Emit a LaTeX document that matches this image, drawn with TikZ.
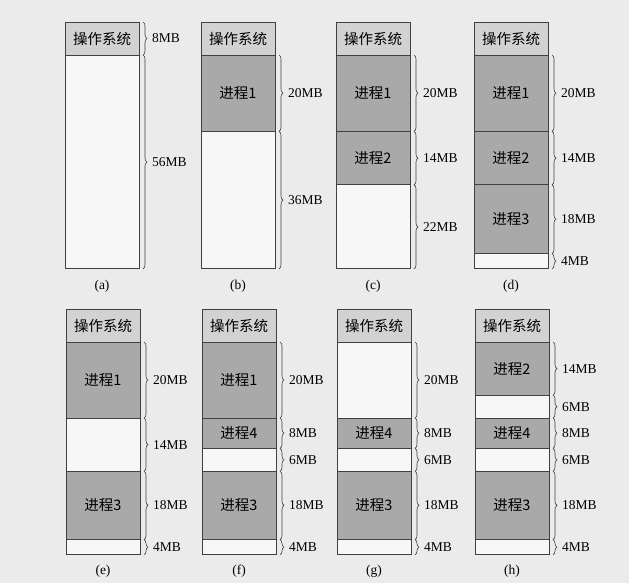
\documentclass[tikz,border=0pt]{standalone}
\usepackage{fontspec}
\setmainfont{Liberation Serif}
\newfontfamily\cjk{Noto Sans CJK SC}
\usetikzlibrary{decorations.pathreplacing}
\definecolor{bgc}{HTML}{EBEBEB}
\definecolor{osc}{HTML}{D2D2D2}
\definecolor{prc}{HTML}{A9A9A9}
\definecolor{frc}{HTML}{F7F7F7}
\definecolor{lnc}{HTML}{404040}
\tikzset{
  blk/.style={draw=lnc,line width=0.9pt,inner sep=0pt,outer sep=0pt,minimum width=74pt,font=\fontsize{14.5pt}{16pt}\cjk,text=black},
  oss/.style={blk,fill=osc},
  prs/.style={blk,fill=prc},
  frs/.style={blk,fill=frc},
  brc/.style={draw=lnc,line width=0.6pt,decorate,decoration={brace,amplitude=4pt,aspect=0.5}},
  szl/.style={anchor=west,inner sep=0pt,font=\fontsize{13.5pt}{15pt}\selectfont,text=black},
  capl/.style={inner sep=0pt,font=\fontsize{13.5pt}{15pt}\selectfont,text=black}
}
\newcommand\mblk[6]{\node[#5,minimum height={(#4-#3)*1pt}] (#1) at ({#2+37},{(#3+#4)/2}) {#6};}
\newcommand\mbrc[5]{\draw[brc] ({#2+78},#3) -- ({#2+78},#4);
  \node[szl] (#1) at ({#2+87},{(#3+#4)/2}) {#5};}
\newcommand\pj[1]{{\cjk 进程}#1}
\begin{document}
\begin{tikzpicture}[x=1pt,y=-1pt]
\useasboundingbox[fill=bgc] (0,0) rectangle (629,583);
% ---------- (a)
\mblk{aos}{65}{22}{55}{oss}{操作系统}
\mblk{af1}{65}{55}{268.9}{frs}{}
\mbrc{al1}{65}{22}{55}{8MB}
\mbrc{al2}{65}{55}{268.9}{56MB}
\node[capl] (capa) at (102,286) {(a)};
% ---------- (b)
\mblk{bos}{201}{22}{55}{oss}{操作系统}
\mblk{bp1}{201}{55}{131.4}{prs}{\pj1}
\mblk{bf1}{201}{131.4}{268.9}{frs}{}
\mbrc{bl1}{201}{55}{131.4}{20MB}
\mbrc{bl2}{201}{131.4}{268.9}{36MB}
\node[capl] (capb) at (238,286) {(b)};
% ---------- (c)
\mblk{cos}{336}{22}{55}{oss}{操作系统}
\mblk{cp1}{336}{55}{131.4}{prs}{\pj1}
\mblk{cp2}{336}{131.4}{184.9}{prs}{\pj2}
\mblk{cf1}{336}{184.9}{268.9}{frs}{}
\mbrc{cl1}{336}{55}{131.4}{20MB}
\mbrc{cl2}{336}{131.4}{184.9}{14MB}
\mbrc{cl3}{336}{184.9}{268.9}{22MB}
\node[capl] (capc) at (373,286) {(c)};
% ---------- (d)
\mblk{dos}{474}{22}{55}{oss}{操作系统}
\mblk{dp1}{474}{55}{131.4}{prs}{\pj1}
\mblk{dp2}{474}{131.4}{184.9}{prs}{\pj2}
\mblk{dp3}{474}{184.9}{253.6}{prs}{\pj3}
\mblk{df1}{474}{253.6}{268.9}{frs}{}
\mbrc{dl1}{474}{55}{131.4}{20MB}
\mbrc{dl2}{474}{131.4}{184.9}{14MB}
\mbrc{dl3}{474}{184.9}{253.6}{18MB}
\mbrc{dl4}{474}{253.6}{268.9}{4MB}
\node[capl] (capd) at (511,286) {(d)};
% ---------- (e)
\mblk{eos}{66}{309}{342}{oss}{操作系统}
\mblk{ep1}{66}{342}{418}{prs}{\pj1}
\mblk{ef1}{66}{418}{471.2}{frs}{}
\mblk{ep3}{66}{471.2}{539.6}{prs}{\pj3}
\mblk{ef2}{66}{539.6}{554.8}{frs}{}
\mbrc{el1}{66}{342}{418}{20MB}
\mbrc{el2}{66}{418}{471.2}{14MB}
\mbrc{el3}{66}{471.2}{539.6}{18MB}
\mbrc{el4}{66}{539.6}{554.8}{4MB}
\node[capl] (cape) at (103,571) {(e)};
% ---------- (f)
\mblk{fos}{202}{309}{342}{oss}{操作系统}
\mblk{fp1}{202}{342}{418}{prs}{\pj1}
\mblk{fp4}{202}{418}{448.4}{prs}{\pj4}
\mblk{ff1}{202}{448.4}{471.2}{frs}{}
\mblk{fp3}{202}{471.2}{539.6}{prs}{\pj3}
\mblk{ff2}{202}{539.6}{554.8}{frs}{}
\mbrc{fl1}{202}{342}{418}{20MB}
\mbrc{fl2}{202}{418}{448.4}{8MB}
\mbrc{fl3}{202}{448.4}{471.2}{6MB}
\mbrc{fl4}{202}{471.2}{539.6}{18MB}
\mbrc{fl5}{202}{539.6}{554.8}{4MB}
\node[capl] (capf) at (239,571) {(f)};
% ---------- (g)
\mblk{gos}{337}{309}{342}{oss}{操作系统}
\mblk{gf0}{337}{342}{418}{frs}{}
\mblk{gp4}{337}{418}{448.4}{prs}{\pj4}
\mblk{gf1}{337}{448.4}{471.2}{frs}{}
\mblk{gp3}{337}{471.2}{539.6}{prs}{\pj3}
\mblk{gf2}{337}{539.6}{554.8}{frs}{}
\mbrc{gl1}{337}{342}{418}{20MB}
\mbrc{gl2}{337}{418}{448.4}{8MB}
\mbrc{gl3}{337}{448.4}{471.2}{6MB}
\mbrc{gl4}{337}{471.2}{539.6}{18MB}
\mbrc{gl5}{337}{539.6}{554.8}{4MB}
\node[capl] (capg) at (374,571) {(g)};
% ---------- (h)
\mblk{hos}{475}{309}{342}{oss}{操作系统}
\mblk{hp2}{475}{342}{395.2}{prs}{\pj2}
\mblk{hf0}{475}{395.2}{418}{frs}{}
\mblk{hp4}{475}{418}{448.4}{prs}{\pj4}
\mblk{hf1}{475}{448.4}{471.2}{frs}{}
\mblk{hp3}{475}{471.2}{539.6}{prs}{\pj3}
\mblk{hf2}{475}{539.6}{554.8}{frs}{}
\mbrc{hl0}{475}{342}{395.2}{14MB}
\mbrc{hl1}{475}{395.2}{418}{6MB}
\mbrc{hl2}{475}{418}{448.4}{8MB}
\mbrc{hl3}{475}{448.4}{471.2}{6MB}
\mbrc{hl4}{475}{471.2}{539.6}{18MB}
\mbrc{hl5}{475}{539.6}{554.8}{4MB}
\node[capl] (caph) at (512,571) {(h)};
\end{tikzpicture}
\end{document}
